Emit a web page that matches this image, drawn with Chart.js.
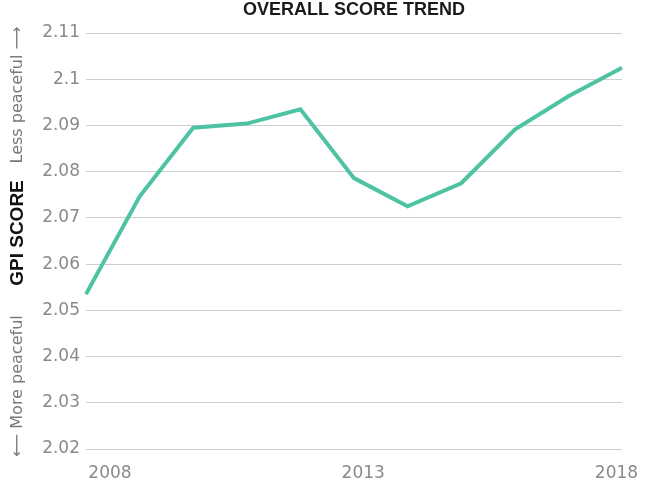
<!DOCTYPE html>
<html>
<head>
<meta charset="utf-8">
<script src="https://cdn.jsdelivr.net/npm/chart.js@4.4.1/dist/chart.umd.min.js"></script>
<style>
    html, body { margin: 0; padding: 0; background: #ffffff; }
    #wrap { width: 655px; height: 482px; position: relative; }
</style>
</head>
<body>
<div id="wrap"><canvas id="trend-chart"></canvas></div>
<script>
// Chart data
const years = [2008, 2009, 2010, 2011, 2012, 2013, 2014, 2015, 2016, 2017, 2018];
const scores = [2.0535, 2.0746, 2.0895, 2.0904, 2.0935, 2.0786, 2.0725, 2.0775, 2.0891, 2.0963, 2.1025];
const yTicks = [2.02, 2.03, 2.04, 2.05, 2.06, 2.07, 2.08, 2.09, 2.1, 2.11];
const yTickLabels = ['2.02', '2.03', '2.04', '2.05', '2.06', '2.07', '2.08', '2.09', '2.1', '2.11'];
const xTickYears = [2008, 2013, 2018];

const chartTitle = 'OVERALL SCORE TREND';
const axisTitle = 'GPI SCORE';
const upLabel = 'Less peaceful \u27F6';
const downLabel = '\u27F5 More peaceful';

const tickFont = { family: 'DejaVu Sans', size: 17 };
const tickColor = '#8a8a8a';

// title and left-side captions
const captionPlugin = {
    id: 'captions',
    afterDraw(chart) {
        const ctx = chart.ctx;
        const area = chart.chartArea;
        ctx.save();
        ctx.fillStyle = '#1a1a1a';
        ctx.font = 'bold 18px "Liberation Sans", Arial, sans-serif';
        ctx.textAlign = 'center';
        ctx.textBaseline = 'middle';
        ctx.fillText(chartTitle, (area.left + area.right) / 2, 10);

        const x = 18;
        const drawRotated = (text, y, font, color) => {
            ctx.save();
            ctx.translate(x, y);
            ctx.rotate(-Math.PI / 2);
            ctx.font = font;
            ctx.fillStyle = color;
            ctx.textAlign = 'center';
            ctx.textBaseline = 'middle';
            ctx.fillText(text, 0, 0);
            ctx.restore();
        };
        drawRotated(upLabel, 95, '16px "DejaVu Sans"', '#7a7a7a');
        drawRotated(axisTitle, 233, 'bold 19px "Liberation Sans", Arial, sans-serif', '#111111');
        drawRotated(downLabel, 386, '16px "DejaVu Sans"', '#7a7a7a');
        ctx.restore();
    }
};

new Chart(document.getElementById('trend-chart'), {
    type: 'line',
    data: {
        datasets: [{
            label: 'GPI score',
            data: years.map((year, i) => ({ x: year, y: scores[i] })),
            borderColor: '#4dc3a4',
            borderWidth: 4,
            pointRadius: 0,
            tension: 0,
            fill: false,
            clip: false,
            xAxisID: 'x',
            yAxisID: 'y'
        }]
    },
    options: {
        responsive: true,
        maintainAspectRatio: false,
        animation: false,
        layout: {
            padding: { left: 40, right: 33, top: 33, bottom: 0 }
        },
        plugins: {
            legend: { display: false },
            tooltip: { enabled: false }
        },
        scales: {
            x: {
                type: 'linear',
                min: 2008,
                max: 2018,
                display: false
            },
            xLabels: {
                type: 'linear',
                position: 'bottom',
                min: 2007.526,
                max: 2018.109,
                grid: { display: false, drawTicks: false },
                border: { display: false },
                afterBuildTicks(scale) {
                    scale.ticks = xTickYears.map(v => ({ value: v }));
                },
                afterFit(scale) {
                    scale.height = 33;
                },
                ticks: {
                    font: tickFont,
                    color: tickColor,
                    padding: 14,
                    maxRotation: 0,
                    callback: value => String(value)
                }
            },
            y: {
                min: 2.02,
                max: 2.11,
                grid: { color: '#cfcfcf', lineWidth: 1, drawTicks: false },
                border: { display: false },
                afterBuildTicks(scale) {
                    scale.ticks = yTicks.map(v => ({ value: v }));
                },
                afterFit(scale) {
                    scale.width = 46;
                },
                ticks: {
                    font: tickFont,
                    color: tickColor,
                    padding: 6,
                    callback: (value, index) => yTickLabels[index]
                }
            }
        }
    },
    plugins: [captionPlugin]
});
</script>
</body>
</html>
